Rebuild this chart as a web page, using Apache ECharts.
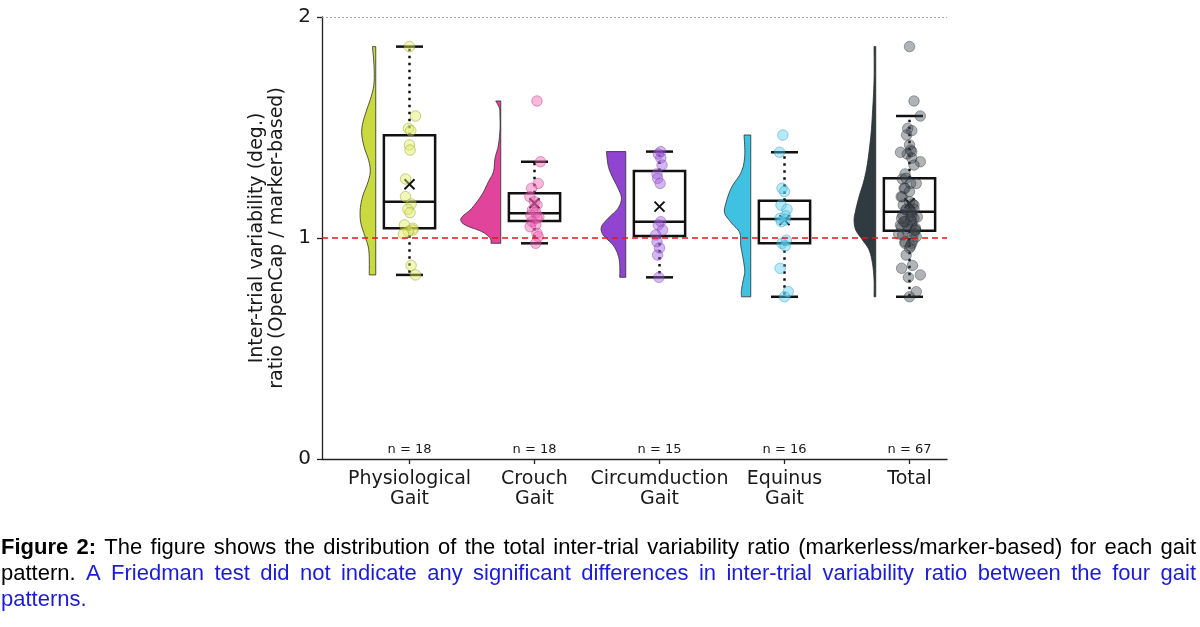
<!DOCTYPE html>
<html><head><meta charset="utf-8">
<script src="https://cdn.jsdelivr.net/npm/echarts@6/dist/echarts.min.js"></script>
<style>html,body{margin:0;padding:0;background:#fff}#c{width:1200px;height:627px}</style>
</head><body><div id="c"></div>
<script>
// ---------------- data ----------------
const categories = ['Physiological\nGait', 'Crouch\nGait', 'Circumduction\nGait', 'Equinus\nGait', 'Total'];
const yTicks = [0, 1, 2];
const yAxisTitle = 'Inter-trial variability (deg.)\nratio (OpenCap / marker-based)';

const physioValues = [1.866, 1.552, 1.496, 1.486, 1.421, 1.398, 1.267, 1.187, 1.154, 1.130, 1.115, 1.059, 1.044, 1.036, 1.030, 1.018, 0.876, 0.833];
const crouchValues = [1.620, 1.345, 1.247, 1.225, 1.187, 1.164, 1.149, 1.127, 1.115, 1.104, 1.095, 1.089, 1.074, 1.059, 1.051, 1.021, 1.006, 0.976];
const circumValues = [1.391, 1.380, 1.362, 1.330, 1.290, 1.270, 1.247, 1.074, 1.059, 1.036, 1.014, 0.983, 0.955, 0.923, 0.822];
const equinusValues = [1.466, 1.388, 1.225, 1.210, 1.149, 1.130, 1.100, 1.089, 1.082, 1.074, 0.990, 0.976, 0.964, 0.863, 0.757, 0.734];

// horizontal jitter of the strip points (category units)
const physioJitter = [0.000, 0.048, -0.008, 0.010, 0.000, 0.005, -0.032, -0.032, 0.013, -0.013, 0.004, -0.040, 0.027, 0.027, -0.010, -0.048, 0.013, 0.048];
const crouchJitter = [0.020, 0.048, 0.030, -0.024, -0.037, 0.000, 0.020, -0.016, 0.010, -0.030, 0.035, 0.020, -0.020, 0.010, -0.035, 0.020, 0.030, 0.010];
const circumJitter = [0.010, -0.010, 0.010, 0.020, -0.020, -0.015, 0.005, 0.010, -0.010, 0.025, -0.030, -0.020, 0.000, -0.015, -0.005];
const equinusJitter = [-0.013, -0.040, -0.020, 0.000, -0.028, 0.020, 0.010, -0.035, 0.005, -0.025, 0.015, -0.020, 0.005, -0.035, 0.030, 0.000];

// box statistics: [lower whisker, Q1, median, Q3, upper whisker]
const physioBox = [0.833, 1.044, 1.164, 1.465, 1.866];
const crouchBox = [0.976, 1.077, 1.112, 1.202, 1.345];
const circumBox = [0.822, 1.009, 1.074, 1.303, 1.391];
const equinusBox = [0.734, 0.976, 1.086, 1.169, 1.388];
const totalBox = [0.734, 1.033, 1.119, 1.270, 1.552];
const groupMeans = [1.243, 1.157, 1.142, 1.081, 1.157];

// half-violin density profiles (value, relative density)
const physioViolinY = [1.866, 1.80, 1.74, 1.69, 1.64, 1.58, 1.52, 1.47, 1.41, 1.35, 1.30, 1.25, 1.19, 1.13, 1.07, 1.01, 0.96, 0.91, 0.833];
const physioViolinD = [3.3, 2, 1.5, 2, 4.5, 9, 13, 14, 11.5, 7, 5.5, 8, 13, 15.5, 15, 11, 7.5, 6.5, 6.5];
const crouchViolinY = [1.620, 1.587, 1.55, 1.496, 1.421, 1.361, 1.300, 1.255, 1.195, 1.134, 1.089, 1.059, 1.029, 0.999, 0.976];
const crouchViolinD = [5, 1.3, 0.8, 0.7, 2.3, 5.7, 7.3, 12.3, 19, 29, 39.7, 35.7, 19, 10.7, 9.7];
const circumViolinY = [1.391, 1.330, 1.285, 1.225, 1.180, 1.134, 1.089, 1.051, 1.014, 0.968, 0.923, 0.878, 0.822];
const circumViolinD = [19.3, 17.7, 14.3, 7.7, 4.3, 7.7, 17.7, 24.3, 22.7, 12.7, 7.7, 6, 6];
const equinusViolinY = [1.466, 1.373, 1.300, 1.228, 1.155, 1.112, 1.068, 1.024, 0.966, 0.908, 0.850, 0.807, 0.763, 0.734];
const equinusViolinD = [6.7, 6, 9.3, 19.3, 25, 26, 19.3, 11, 10, 7.7, 6, 7.7, 9.3, 9.3];
const totalViolinY = [1.866, 1.715, 1.564, 1.458, 1.338, 1.262, 1.187, 1.127, 1.081, 1.036, 0.991, 0.946, 0.885, 0.810, 0.734];
const totalViolinD = [1.7, 1.7, 3.3, 5, 8.3, 11.7, 16.7, 20, 21.7, 20, 13.3, 6.7, 3.3, 1.7, 1.7];

const captionBold = 'Figure 2:';
const captionLine1 = 'The figure shows the distribution of the total inter-trial variability ratio (markerless/marker-based) for each gait';
const captionLine2Black = 'pattern.';
const captionLine2Blue = 'A Friedman test did not indicate any significant differences in inter-trial variability ratio between the four gait';
const captionLine3Blue = 'patterns.';

// ---------------- derived ----------------
const groupValues = [physioValues, crouchValues, circumValues, equinusValues];
const groupJitter = [physioJitter, crouchJitter, circumJitter, equinusJitter];
const totalValues = [].concat(...groupValues);
const totalJitter = [].concat(...groupJitter);
const allValues = [...groupValues, totalValues];
const allJitter = [...groupJitter, totalJitter.map(j => j * 1.8)];
const boxes = [physioBox, crouchBox, circumBox, equinusBox, totalBox];
const violinYs = [physioViolinY, crouchViolinY, circumViolinY, equinusViolinY, totalViolinY];
const violinDs = [physioViolinD, crouchViolinD, circumViolinD, equinusViolinD, totalViolinD];

// ---------------- styles ----------------
const violinColors = ['#c8da3e', '#e0449b', '#9044d0', '#3fc2e2', '#2f3a41'];
const pointFill = ['rgba(222,236,96,0.55)', 'rgba(234,96,176,0.55)', 'rgba(160,90,218,0.55)', 'rgba(90,208,238,0.55)', 'rgba(60,68,74,0.5)'];
const pointStroke = ['rgba(150,165,40,0.8)', 'rgba(190,50,130,0.7)', 'rgba(120,60,180,0.7)', 'rgba(40,150,190,0.7)', 'rgba(30,35,40,0.6)'];
const violinOffset = -0.27;
const violinScale = 1 / 125;
const boxHalf = 0.205;
const capHalf = 0.108;
const FONT = 'DejaVu Sans';

function catmull(pts, seg) {
  const out = [];
  for (let i = 0; i < pts.length - 1; i++) {
    const p0 = pts[Math.max(0, i - 1)], p1 = pts[i], p2 = pts[i + 1], p3 = pts[Math.min(pts.length - 1, i + 2)];
    for (let s = 0; s < seg; s++) {
      const t = s / seg, t2 = t * t, t3 = t2 * t;
      const f = (a, b, c, d) => 0.5 * ((2 * b) + (-a + c) * t + (2 * a - 5 * b + 4 * c - d) * t2 + (-a + 3 * b - 3 * c + d) * t3);
      out.push([f(p0[0], p1[0], p2[0], p3[0]), f(p0[1], p1[1], p2[1], p3[1])]);
    }
  }
  out.push(pts[pts.length - 1]);
  return out;
}

const chart = echarts.init(document.getElementById('c'), null, { renderer: 'canvas' });

const series = [];
// violins
series.push({
  type: 'custom', name: 'violin', z: 2, silent: true,
  data: categories.map((c, i) => [i]),
  encode: { x: 0 },
  renderItem: function (params, api) {
    const g = api.value(0);
    const xr = g + violinOffset;
    const ys = violinYs[g], ds = violinDs[g];
    const pts = ys.map((v, k) => api.coord([xr - ds[k] * violinScale, v]));
    const curve = catmull(pts, 8);
    const top = api.coord([xr, ys[0]]);
    const bot = api.coord([xr, ys[ys.length - 1]]);
    return {
      type: 'polygon',
      shape: { points: [top].concat(curve).concat([bot]) },
      style: { fill: violinColors[g], stroke: '#2b2b2b', lineWidth: 0.8 }
    };
  }
});
// boxes
series.push({
  type: 'custom', name: 'box', z: 3, silent: true,
  data: boxes.map((b, i) => [i, b[0], b[1], b[2], b[3], b[4], groupMeans[i]]),
  encode: { x: 0, y: [1, 2, 3, 4, 5] },
  renderItem: function (params, api) {
    const g = api.value(0);
    const lo = api.value(1), q1 = api.value(2), md = api.value(3), q3 = api.value(4), hi = api.value(5), mn = api.value(6);
    const line = (a, b, dash) => ({
      type: 'line', shape: { x1: a[0], y1: a[1], x2: b[0], y2: b[1] },
      style: { stroke: '#111', lineWidth: 2.5, lineDash: dash || null, lineCap: 'butt' }
    });
    const c = (x, y) => api.coord([x, y]);
    const tl = c(g - boxHalf, q3), br = c(g + boxHalf, q1);
    const m = c(g, mn);
    const r = 5;
    return {
      type: 'group',
      children: [
        line(c(g, q3), c(g, hi), [2.5, 4.5]),
        line(c(g, q1), c(g, lo), [2.5, 4.5]),
        line(c(g - capHalf, hi), c(g + capHalf, hi)),
        line(c(g - capHalf, lo), c(g + capHalf, lo)),
        { type: 'rect', shape: { x: tl[0], y: tl[1], width: br[0] - tl[0], height: br[1] - tl[1] },
          style: { fill: 'none', stroke: '#111', lineWidth: 2.5 } },
        line(c(g - boxHalf, md), c(g + boxHalf, md)),
        { type: 'line', shape: { x1: m[0] - r, y1: m[1] - r, x2: m[0] + r, y2: m[1] + r }, style: { stroke: '#111', lineWidth: 2 } },
        { type: 'line', shape: { x1: m[0] - r, y1: m[1] + r, x2: m[0] + r, y2: m[1] - r }, style: { stroke: '#111', lineWidth: 2 } }
      ]
    };
  }
});
// strip points
allValues.forEach((vals, g) => {
  series.push({
    type: 'scatter', name: 'pts' + g, z: 4, silent: true,
    symbol: 'circle', symbolSize: 10.5,
    itemStyle: { color: pointFill[g], borderColor: pointStroke[g], borderWidth: 0.8 },
    data: vals.map((v, k) => [g + allJitter[g][k], v])
  });
});
// n labels
series.push({
  type: 'custom', name: 'nlabels', z: 5, silent: true,
  data: allValues.map((v, i) => [i, v.length]),
  encode: { x: 0 },
  renderItem: function (params, api) {
    const p = api.coord([api.value(0), 0]);
    return { type: 'text', x: p[0], y: p[1] - 9,
      style: { text: 'n = ' + api.value(1), fill: '#1a1a1a', font: '13px "' + FONT + '"', align: 'center', verticalAlign: 'middle' } };
  }
});
// reference lines
series.push({
  type: 'line', name: 'ref', data: [], silent: true, z: 6,
  markLine: {
    silent: true, symbol: 'none', label: { show: false }, z: 6,
    data: [
      { yAxis: 1, lineStyle: { color: '#e4161c', width: 1.6, type: [6, 4] } },
      { yAxis: 2, lineStyle: { color: '#a8a8a8', width: 1, type: [2, 2] } }
    ]
  }
});

chart.setOption({
  animation: false,
  backgroundColor: '#ffffff',
  grid: { left: 322, right: 253, top: 17, bottom: 168, containLabel: false },
  xAxis: {
    type: 'value', min: -0.7, max: 4.3,
    axisLine: { show: true, onZero: false, lineStyle: { color: '#222', width: 1.3 } },
    axisTick: { show: true, customValues: categories.map((c, i) => i), length: 5, lineStyle: { color: '#222', width: 1.3 } },
    axisLabel: { customValues: categories.map((c, i) => i), formatter: v => categories[Math.round(v)],
      fontFamily: FONT, fontSize: 19, lineHeight: 20, color: '#1a1a1a', margin: 10 },
    splitLine: { show: false }
  },
  yAxis: {
    type: 'value', min: 0, max: 2, interval: 1,
    axisLine: { show: true, onZero: false, lineStyle: { color: '#222', width: 1.3 } },
    axisTick: { show: true, length: 5, lineStyle: { color: '#222', width: 1.3 } },
    axisLabel: { fontFamily: FONT, fontSize: 20, color: '#1a1a1a', margin: 11, formatter: v => String(v) },
    splitLine: { show: false },
    name: yAxisTitle, nameLocation: 'middle', nameRotate: 90, nameGap: 24,
    nameTextStyle: { fontFamily: FONT, fontSize: 19, lineHeight: 20, color: '#1a1a1a' }
  },
  series: series
});

// ---------------- caption (justified) ----------------
const cv = document.createElement('canvas').getContext('2d');
function tw(t, font) { cv.font = font; return cv.measureText(t).width; }
const CF = 'Liberation Sans';
const fontOf = (s, b) => (b ? 'bold ' : '') + s + 'px "' + CF + '"';
const line1Words = [{ t: 'Figure', b: 1, c: '#000' }, { t: '2:', b: 1, c: '#000' }].concat(captionLine1.split(' ').map(t => ({ t, b: 0, c: '#000' })));
const line2Words = [{ t: captionLine2Black, b: 0, c: '#000' }].concat(captionLine2Blue.split(' ').map(t => ({ t, b: 0, c: '#1c1cd6' })));
const line3Words = [{ t: captionLine3Blue, b: 0, c: '#1c1cd6' }];
const natural = (ws, s) => ws.reduce((a, w) => a + tw(w.t, fontOf(s, w.b)), 0) + (ws.length - 1) * tw(' ', fontOf(s, 0));
const wmax = Math.max(natural(line1Words, 20), natural(line2Words, 20));
const size = Math.min(22, 20 * 1186 / wmax);
const X0 = 1, X1 = 1196;
const graphics = [];
function placeLine(ws, yc, justify) {
  const widths = ws.map(w => tw(w.t, fontOf(size, w.b)));
  const total = widths.reduce((a, b) => a + b, 0);
  const gap = justify && ws.length > 1 ? (X1 - X0 - total) / (ws.length - 1) : tw(' ', fontOf(size, 0));
  let x = X0;
  ws.forEach((w, k) => {
    graphics.push({ type: 'text', x: x, y: yc, silent: true,
      style: { text: w.t, font: fontOf(size, w.b), fill: w.c, align: 'left', verticalAlign: 'middle' } });
    x += widths[k] + gap;
  });
}
placeLine(line1Words, 548, true);
placeLine(line2Words, 574, true);
placeLine(line3Words, 600, false);
chart.setOption({ graphic: graphics });
</script>
</body></html>
